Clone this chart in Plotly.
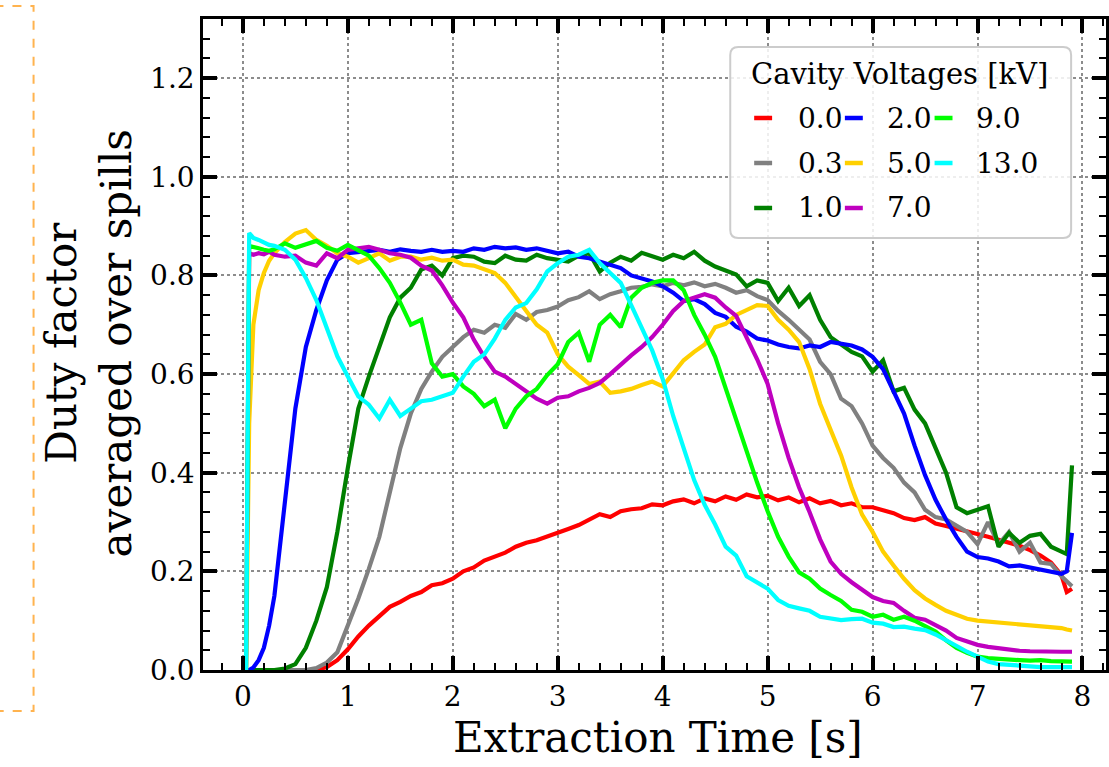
import plotly.graph_objects as go

# ---------------- data ----------------
time_s = [0.0, 0.03, 0.06, 0.1, 0.15, 0.2, 0.25,
          0.3, 0.4, 0.5, 0.6, 0.7, 0.8, 0.9,
          1.0, 1.1, 1.2, 1.3, 1.4, 1.5, 1.6, 1.7, 1.8, 1.9,
          2.0, 2.1, 2.2, 2.3, 2.4, 2.5, 2.6, 2.7, 2.8, 2.9,
          3.0, 3.1, 3.2, 3.3, 3.4, 3.5, 3.6, 3.7, 3.8, 3.9,
          4.0, 4.1, 4.2, 4.3, 4.4, 4.5, 4.6, 4.7, 4.8, 4.9,
          5.0, 5.1, 5.2, 5.3, 5.4, 5.5, 5.6, 5.7, 5.8, 5.9,
          6.0, 6.1, 6.2, 6.3, 6.4, 6.5, 6.6, 6.7, 6.8, 6.9,
          7.0, 7.1, 7.2, 7.3, 7.4, 7.5, 7.6, 7.7, 7.8, 7.85, 7.9]

voltages = ["0.0", "0.3", "1.0", "2.0", "5.0", "7.0", "9.0", "13.0"]

df_0_0 = [0, 0, 0, 0, 0, 0, 0,
          0, 0, 0, 0, 0, 0.006, 0.02,
          0.042, 0.068, 0.09, 0.11, 0.128, 0.138, 0.15, 0.158, 0.172, 0.176,
          0.185, 0.2, 0.208, 0.222, 0.23, 0.238, 0.25, 0.258, 0.263, 0.27,
          0.278, 0.286, 0.294, 0.304, 0.316, 0.31, 0.322, 0.326, 0.328, 0.336,
          0.334, 0.342, 0.346, 0.338, 0.348, 0.342, 0.352, 0.345, 0.356, 0.35,
          0.353, 0.344, 0.35, 0.34, 0.348, 0.338, 0.343, 0.334, 0.338, 0.33,
          0.33, 0.324, 0.318, 0.308, 0.304, 0.31, 0.297, 0.292, 0.287, 0.282,
          0.275, 0.27, 0.264, 0.258, 0.252, 0.243, 0.232, 0.218, 0.192, 0.158, 0.165]

df_0_3 = [0, 0, 0, 0, 0, 0, 0,
          0, 0, 0, 0, 0.004, 0.015, 0.036,
          0.09, 0.145, 0.205, 0.27, 0.36, 0.45, 0.52, 0.57, 0.605, 0.635,
          0.655, 0.675, 0.69, 0.684, 0.7, 0.694, 0.722, 0.71, 0.726, 0.73,
          0.737, 0.75, 0.756, 0.768, 0.752, 0.762, 0.768, 0.775, 0.777, 0.782,
          0.778, 0.785, 0.78, 0.786, 0.778, 0.783, 0.775, 0.765, 0.77, 0.758,
          0.75, 0.728, 0.71, 0.69, 0.67, 0.625, 0.6, 0.55, 0.535, 0.5,
          0.455, 0.43, 0.41, 0.38, 0.36, 0.325, 0.31, 0.305, 0.292, 0.28,
          0.255, 0.3, 0.255, 0.28, 0.24, 0.258, 0.218, 0.215, 0.19, 0.18, 0.17]

df_1_0 = [0, 0, 0, 0, 0, 0, 0,
          0, 0.003, 0.012, 0.045, 0.1, 0.168, 0.28,
          0.41, 0.53, 0.595, 0.655, 0.715, 0.755, 0.775, 0.812, 0.82, 0.8,
          0.835, 0.84, 0.838, 0.828, 0.825, 0.84, 0.832, 0.83, 0.842, 0.835,
          0.832, 0.828, 0.84, 0.845, 0.808, 0.826, 0.838, 0.83, 0.846, 0.838,
          0.832, 0.842, 0.835, 0.848, 0.83, 0.818, 0.81, 0.802, 0.778, 0.79,
          0.785, 0.748, 0.775, 0.738, 0.76, 0.71, 0.675, 0.66, 0.645, 0.636,
          0.605, 0.628, 0.565, 0.572, 0.528, 0.5, 0.45, 0.4, 0.33, 0.318,
          0.325, 0.332, 0.25, 0.278, 0.258, 0.272, 0.276, 0.25, 0.24, 0.235, 0.415]

df_2_0 = [0, 0, 0, 0.005, 0.02, 0.045, 0.09,
          0.15, 0.34, 0.53, 0.655, 0.73, 0.79, 0.832,
          0.845, 0.848, 0.85, 0.852, 0.848, 0.853, 0.85, 0.848, 0.852, 0.848,
          0.85, 0.848, 0.855, 0.852, 0.858, 0.855, 0.857, 0.852, 0.855, 0.85,
          0.845, 0.848, 0.838, 0.835, 0.828, 0.82, 0.815, 0.8, 0.795, 0.788,
          0.778, 0.765, 0.748, 0.752, 0.742, 0.724, 0.716, 0.696, 0.686, 0.672,
          0.668, 0.66, 0.655, 0.652, 0.658, 0.655, 0.665, 0.662, 0.658, 0.65,
          0.635, 0.61, 0.565, 0.52, 0.455, 0.395, 0.345, 0.305, 0.27, 0.24,
          0.229, 0.226, 0.22, 0.21, 0.212, 0.208, 0.204, 0.2, 0.195, 0.2, 0.278]

df_5_0 = [0, 0, 0.5, 0.7, 0.77, 0.805, 0.83,
          0.845, 0.868, 0.885, 0.892, 0.872, 0.86, 0.845,
          0.838, 0.826, 0.835, 0.845, 0.83, 0.838, 0.838, 0.832, 0.836, 0.83,
          0.832, 0.822, 0.82, 0.812, 0.805, 0.785, 0.758, 0.728, 0.7, 0.684,
          0.64, 0.615, 0.598, 0.58, 0.585, 0.562, 0.565, 0.57, 0.578, 0.585,
          0.575, 0.6, 0.628, 0.645, 0.66, 0.695, 0.702, 0.72, 0.73, 0.74,
          0.738, 0.71, 0.69, 0.665, 0.61, 0.54, 0.487, 0.435, 0.37, 0.315,
          0.28, 0.24, 0.212, 0.185, 0.162, 0.145, 0.132, 0.12, 0.112, 0.104,
          0.1, 0.098, 0.096, 0.094, 0.092, 0.09, 0.088, 0.088, 0.085, 0.082, 0.08]

df_7_0 = [0, 0, 0.845, 0.842, 0.845, 0.843, 0.848,
          0.842, 0.838, 0.84, 0.826, 0.82, 0.845, 0.835,
          0.852, 0.855, 0.858, 0.852, 0.845, 0.842, 0.836, 0.82, 0.81, 0.78,
          0.745, 0.715, 0.67, 0.635, 0.605, 0.595, 0.58, 0.565, 0.55, 0.54,
          0.552, 0.555, 0.565, 0.572, 0.582, 0.6, 0.62, 0.638, 0.655, 0.675,
          0.7, 0.728, 0.748, 0.755, 0.762, 0.755, 0.735, 0.718, 0.675, 0.63,
          0.58, 0.5, 0.43, 0.37, 0.32, 0.265, 0.22, 0.195, 0.178, 0.162,
          0.148, 0.14, 0.136, 0.12, 0.106, 0.102, 0.092, 0.08, 0.065, 0.058,
          0.051, 0.047, 0.044, 0.041, 0.039, 0.038, 0.037, 0.036, 0.037, 0.037, 0.037]

df_9_0 = [0, 0, 0.86, 0.857, 0.855, 0.852, 0.85,
          0.853, 0.865, 0.856, 0.862, 0.87, 0.856, 0.85,
          0.862, 0.85, 0.84, 0.815, 0.785, 0.745, 0.7, 0.71, 0.622, 0.595,
          0.6, 0.575, 0.56, 0.535, 0.548, 0.49, 0.53, 0.555, 0.57, 0.598,
          0.62, 0.665, 0.684, 0.625, 0.7, 0.72, 0.695, 0.755, 0.775, 0.785,
          0.79, 0.79, 0.77, 0.72, 0.68, 0.635, 0.57, 0.505, 0.44, 0.38,
          0.322, 0.27, 0.23, 0.198, 0.185, 0.165, 0.152, 0.14, 0.122, 0.118,
          0.108, 0.112, 0.102, 0.108, 0.1, 0.09, 0.078, 0.06, 0.045, 0.035,
          0.027, 0.024, 0.022, 0.02, 0.02, 0.019, 0.02, 0.018, 0.018, 0.017, 0.017]

df_13_0 = [0, 0, 0.886, 0.876, 0.872, 0.866, 0.862,
           0.86, 0.852, 0.832, 0.795, 0.75, 0.69, 0.636,
           0.595, 0.555, 0.538, 0.51, 0.548, 0.515, 0.53, 0.545, 0.548, 0.555,
           0.562, 0.595, 0.625, 0.64, 0.672, 0.71, 0.735, 0.744, 0.772, 0.808,
           0.825, 0.838, 0.842, 0.852, 0.825, 0.805, 0.785, 0.74, 0.696, 0.648,
           0.59, 0.515, 0.45, 0.385, 0.335, 0.295, 0.25, 0.232, 0.19, 0.178,
           0.165, 0.142, 0.13, 0.125, 0.12, 0.108, 0.105, 0.101, 0.103, 0.104,
           0.096, 0.094, 0.087, 0.088, 0.084, 0.081, 0.072, 0.06, 0.05, 0.037,
           0.027, 0.017, 0.012, 0.01, 0.008, 0.007, 0.006, 0.006, 0.006, 0.006, 0.006]

series = [df_0_0, df_0_3, df_1_0, df_2_0, df_5_0, df_7_0, df_9_0, df_13_0]
colors = ["#ff0000", "#808080", "#008000", "#0000ff", "#ffd000", "#bf00bf", "#00ff00", "#00ffff"]

x_ticks = [0, 1, 2, 3, 4, 5, 6, 7, 8]
legend_title = "Cavity Voltages [kV]"

# ---------------- layout geometry ----------------
W, H = 1109, 767
ML, MR, MT, MB = 203, 0, 19, 97
PW, PH = W - ML - MR, H - MT - MB
FONT = "DejaVu Serif"


def px(x):
    return (x - ML) / PW


def py(y):
    return (H - MB - y) / PH


fig = go.Figure()
for v, ys, c in zip(voltages, series, colors):
    fig.add_trace(go.Scatter(x=time_s, y=ys, mode="lines", name=v,
                             line=dict(color=c, width=4.2), showlegend=False))

axis_common = dict(
    showline=True, linecolor="black", linewidth=2.5, mirror="allticks",
    ticks="inside", ticklen=14, tickwidth=3.5, tickcolor="black",
    showgrid=True, gridcolor="#8c8c8c", griddash="dot", gridwidth=1.6,
    zeroline=False, tickfont=dict(family=FONT, size=28, color="black"),
)

fig.update_xaxes(range=[-0.38, 8.224], tickvals=x_ticks,
                 minor=dict(ticks="inside", dtick=0.2, tick0=0, ticklen=7, tickwidth=2,
                            tickcolor="black", showgrid=False),
                 **axis_common)
fig.update_yaxes(range=[0, 1.32], dtick=0.2, tick0=0, tickformat=".1f",
                 minor=dict(ticks="inside", dtick=0.04, tick0=0, ticklen=7, tickwidth=2,
                            tickcolor="black", showgrid=False),
                 **axis_common)

shapes = []
annotations = []

# axis titles
annotations.append(dict(text="Extraction Time [s]", xref="paper", yref="paper",
                        x=px(660), y=py(737), xanchor="center", yanchor="middle",
                        showarrow=False, font=dict(family=FONT, size=42, color="black")))
annotations.append(dict(text="Duty factor<br>averaged over spills", xref="paper", yref="paper",
                        x=px(89), y=py(343), xanchor="center", yanchor="middle",
                        textangle=-90, showarrow=False, align="center",
                        font=dict(family=FONT, size=42, color="black")))

# legend box (rounded)
bx0, bx1, by0, by1, r = 732, 1074, 47, 238, 8
rx, ry = r / PW, r / PH
X0, X1, Y0, Y1 = px(bx0), px(bx1), py(by1), py(by0)
path = (f"M {X0+rx},{Y0} L {X1-rx},{Y0} Q {X1},{Y0} {X1},{Y0+ry} "
        f"L {X1},{Y1-ry} Q {X1},{Y1} {X1-rx},{Y1} L {X0+rx},{Y1} "
        f"Q {X0},{Y1} {X0},{Y1-ry} L {X0},{Y0+ry} Q {X0},{Y0} {X0+rx},{Y0} Z")
shapes.append(dict(type="path", path=path, xref="paper", yref="paper", layer="above",
                   fillcolor="rgba(255,255,255,0.85)", line=dict(color="#cccccc", width=2)))

annotations.append(dict(text=legend_title, xref="paper", yref="paper",
                        x=px(902), y=py(74), xanchor="center", yanchor="middle",
                        showarrow=False, font=dict(family=FONT, size=29, color="black")))

col_handle = [756, 847, 937]
col_text = [798, 887, 977]
row_y = [118, 163, 208]
for i, (v, c) in enumerate(zip(voltages, colors)):
    col, row = i // 3, i % 3
    yy = py(row_y[row])
    shapes.append(dict(type="line", xref="paper", yref="paper", layer="above",
                       x0=px(col_handle[col]), x1=px(col_handle[col] + 18), y0=yy, y1=yy,
                       line=dict(color=c, width=4.5)))
    annotations.append(dict(text=v, xref="paper", yref="paper", x=px(col_text[col]), y=yy,
                            xanchor="left", yanchor="middle", showarrow=False,
                            font=dict(family=FONT, size=28, color="black")))

# dashed orange frame at the left edge
shapes.append(dict(type="rect", xref="paper", yref="paper", layer="above",
                   x0=px(-6), x1=px(33), y0=py(711), y1=py(6),
                   line=dict(color="rgba(255,175,70,0.95)", width=2, dash="dash"),
                   fillcolor="rgba(0,0,0,0)"))

fig.update_layout(width=W, height=H, margin=dict(l=ML, r=MR, t=MT, b=MB),
                  plot_bgcolor="white", paper_bgcolor="white",
                  shapes=shapes, annotations=annotations, showlegend=False,
                  font=dict(family=FONT, color="black"))

fig.write_html("out.html")
